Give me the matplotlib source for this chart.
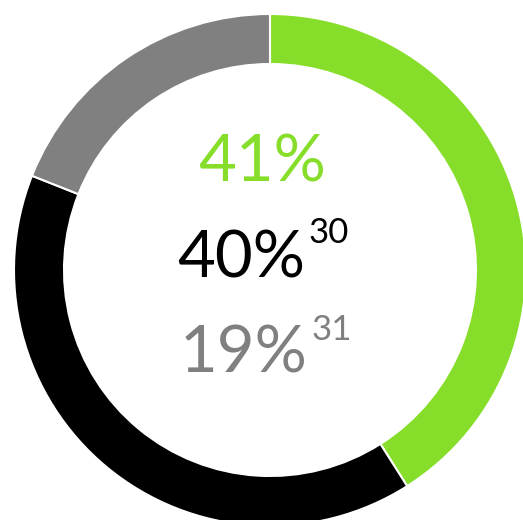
import matplotlib.pyplot as plt

shares = [41, 40, 19]
colors = ['#86DE2A', '#000000', '#808080']
labels = ['41%', '40%', '19%']
notes = ['', '30', '31']

W, H = 523, 520
fig = plt.figure(figsize=(W / 100, H / 100), dpi=100)
ax = fig.add_axes([0, 0, 1, 1])

# donut, center / radius in pixel coords (y measured from bottom)
ax.pie(shares, colors=colors, startangle=90, counterclock=False,
       center=(270, H - 270), radius=256, frame=True,
       wedgeprops=dict(width=50, edgecolor='white', linewidth=1.5))
ax.set_xlim(0, W)
ax.set_ylim(0, H)
ax.set_aspect('equal')
ax.axis('off')

font = 'Lato'
main_pos = [(262, 163), (241, 259), (244, 354)]
note_y = [None, 233, 330]
renderer = fig.canvas.get_renderer()
for lab, c, p, n, qy in zip(labels, colors, main_pos, notes, note_y):
    t = ax.text(p[0], H - p[1], lab, color=c, fontsize=47, family=font,
                ha='center', va='center')
    if n:
        bb = t.get_window_extent(renderer)
        x0 = ax.transData.inverted().transform((bb.x1, 0))[0]
        ax.text(x0 + 4, H - qy, n, color=c, fontsize=25, family=font,
                ha='left', va='center')

fig.savefig('out.png', dpi=100)
